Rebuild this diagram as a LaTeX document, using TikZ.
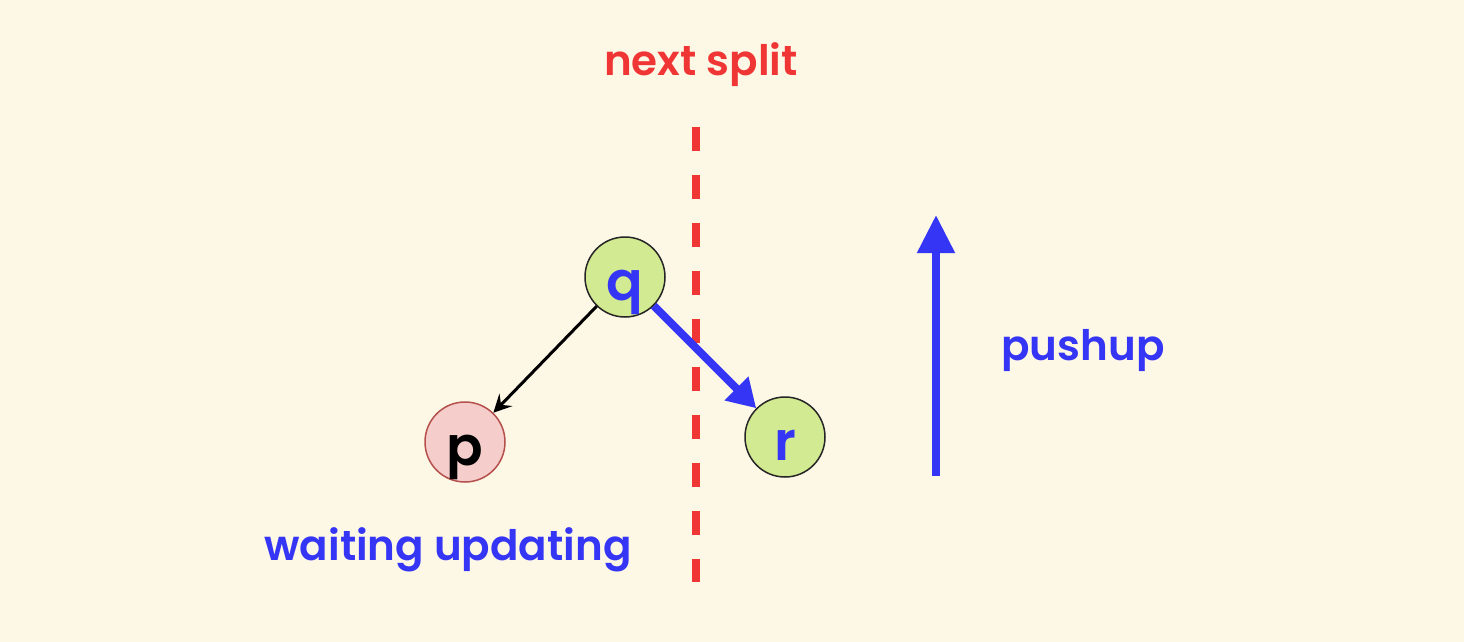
\documentclass[tikz,border=0pt]{standalone}
\usepackage{fontspec}
\setmainfont{Poppins}[BoldFont={Poppins SemiBold}]
\usetikzlibrary{arrows.meta}
\definecolor{bg}{HTML}{FDF7E6}
\definecolor{myred}{HTML}{F03535}
\definecolor{myblue}{HTML}{3535F5}
\definecolor{mygreen}{HTML}{D2EA91}
\definecolor{mypink}{HTML}{F5CDCB}
\definecolor{pinkline}{HTML}{B5514D}
\begin{document}
\begin{tikzpicture}[x=1pt,y=-1pt,
  treenode/.style={circle,minimum size=80pt,inner sep=0pt,line width=1.5pt,text height=46pt,text depth=0pt,font=\fontsize{54}{54}\selectfont\bfseries},
  lbl/.style={font=\fontsize{42}{42}\selectfont\bfseries,inner sep=0pt}]
\fill[bg] (0,0) rectangle (1464,642);
\useasboundingbox (0,0) rectangle (1464,642);
\node[treenode,draw=black!85,fill=mygreen,text=myblue] (q) at (625,277) {q};
\node[treenode,draw=pinkline,fill=mypink,text=black] (p) at (465,442) {p};
\node[treenode,draw=black!85,fill=mygreen,text=myblue] (r) at (785,437) {r};
\coordinate (dtop) at (696,127);
\coordinate (dbot) at (696,582);
\draw[myred,line width=8pt,dash pattern=on 24pt off 24pt] (dtop) -- (dbot);
\draw[line width=3pt,-{Stealth[length=18pt,width=18pt,inset=7pt]}] (q) -- (p);
\draw[myblue,line width=8pt,-{Triangle[length=28pt,width=32pt]}] (q) -- (r);
\coordinate (pb) at (936,476);
\coordinate (pt) at (936,215);
\draw[myblue,line width=8pt,-{Triangle[length=38pt,width=36pt]}] (pb) -- (pt);
\node[lbl,text=myred] (ns) at (701,65) {next split};
\node[lbl,text=myblue] (pu) at (1083,350) {pushup};
\node[lbl,text=myblue] (wu) at (448,550) {waiting updating};
\end{tikzpicture}
\end{document}
